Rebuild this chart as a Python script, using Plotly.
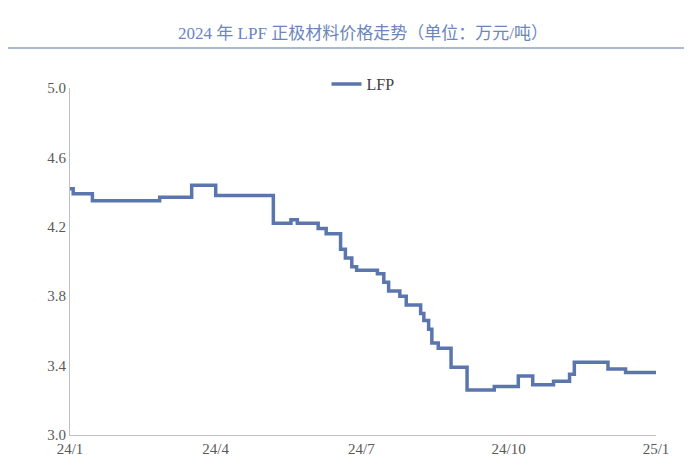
import plotly.graph_objects as go

dates = ["2024-01-01", "2024-01-03", "2024-01-15", "2024-02-26", "2024-03-17", "2024-04-01",
         "2024-05-07", "2024-05-18", "2024-05-22", "2024-06-04", "2024-06-09", "2024-06-16",
         "2024-06-18", "2024-06-21", "2024-06-25", "2024-06-28", "2024-07-11", "2024-07-15",
         "2024-07-18", "2024-07-25", "2024-07-29", "2024-08-07", "2024-08-09", "2024-08-12",
         "2024-08-14", "2024-08-18", "2024-08-26", "2024-09-05", "2024-09-22", "2024-10-07",
         "2024-10-16", "2024-10-29", "2024-11-08", "2024-11-11", "2024-12-02", "2024-12-13",
         "2025-01-01"]
lfp = [4.42, 4.39, 4.35, 4.37, 4.44, 4.38,
       4.22, 4.24, 4.22, 4.19, 4.16, 4.16,
       4.07, 4.02, 3.97, 3.95, 3.93, 3.88,
       3.83, 3.80, 3.75, 3.70, 3.66, 3.61,
       3.53, 3.50, 3.39, 3.26, 3.28, 3.34,
       3.29, 3.31, 3.35, 3.42, 3.38, 3.36,
       3.36]

tick_vals = ["2024-01-01", "2024-04-01", "2024-07-01", "2024-10-01", "2025-01-01"]
tick_text = ["24/1", "24/4", "24/7", "24/10", "25/1"]

fig = go.Figure()
fig.add_trace(go.Scatter(x=dates, y=lfp, mode="lines", name="LFP", line_shape="hv",
                         showlegend=True, line=dict(color="#5b76ad", width=3.5)))

fig.add_shape(type="line", xref="paper", yref="paper", x0=-0.11, x1=1.08, y0=1.115, y1=1.115,
              line=dict(color="#8ea0c8", width=1.5))

fig.update_layout(
    width=692, height=465,
    margin=dict(l=62, r=44, t=80, b=38),
    plot_bgcolor="white", paper_bgcolor="white",
    font=dict(family="Liberation Serif", color="#595959", size=15),
    title=dict(text="2024 年 LPF 正极材料价格走势（单位：万元/吨）", x=0.5, xref="paper", y=0.96,
               font=dict(family="Liberation Serif, Noto Sans CJK SC", size=17, color="#6a86bd")),
    legend=dict(orientation="h", x=0.5, xanchor="center", y=1.06, yanchor="top",
                font=dict(size=16, color="#404040")),
    xaxis=dict(range=["2024-01-01", "2025-01-01"], tickvals=tick_vals, ticktext=tick_text,
               showgrid=False, showline=True, linecolor="#bfbfbf", ticks="", zeroline=False),
    yaxis=dict(range=[3.0, 5.0], tick0=3.0, dtick=0.4, tickformat=".1f", showgrid=False,
               showline=True, linecolor="#bfbfbf", ticks="", zeroline=False),
)

fig.write_html("out.html")
